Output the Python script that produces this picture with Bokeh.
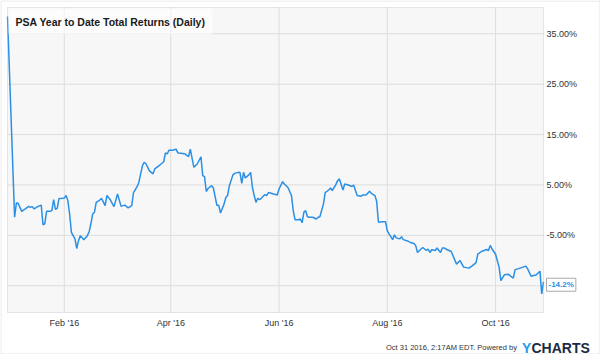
import pandas as pd
from bokeh.plotting import figure
from bokeh.models import BoxAnnotation, Label, Range1d
from bokeh.core.properties import value
from bokeh.embed import file_html
from bokeh.resources import INLINE

title_text = "PSA Year to Date Total Returns (Daily)"

dates = [
    "2015-12-31", "2016-01-04", "2016-01-05", "2016-01-06", "2016-01-08", "2016-01-10",
    "2016-01-12", "2016-01-13", "2016-01-14", "2016-01-15", "2016-01-17", "2016-01-19",
    "2016-01-20", "2016-01-21", "2016-01-22", "2016-01-24", "2016-01-25", "2016-01-26",
    "2016-01-27", "2016-01-28", "2016-01-29", "2016-01-31", "2016-02-01", "2016-02-02",
    "2016-02-03", "2016-02-04", "2016-02-05", "2016-02-07", "2016-02-08", "2016-02-09",
    "2016-02-10", "2016-02-12", "2016-02-14", "2016-02-15", "2016-02-16", "2016-02-17",
    "2016-02-18", "2016-02-19", "2016-02-21", "2016-02-22", "2016-02-24", "2016-02-25",
    "2016-02-27", "2016-02-29", "2016-03-02", "2016-03-04", "2016-03-06", "2016-03-08",
    "2016-03-10", "2016-03-11", "2016-03-13", "2016-03-14", "2016-03-16", "2016-03-17",
    "2016-03-18", "2016-03-20", "2016-03-22", "2016-03-23", "2016-03-26", "2016-03-28",
    "2016-03-29", "2016-03-30", "2016-03-31", "2016-04-02", "2016-04-04", "2016-04-05",
    "2016-04-07", "2016-04-09", "2016-04-11", "2016-04-12", "2016-04-14", "2016-04-16",
    "2016-04-18", "2016-04-19", "2016-04-20", "2016-04-21", "2016-04-22", "2016-04-24",
    "2016-04-25", "2016-04-27", "2016-04-28", "2016-04-29", "2016-05-01", "2016-05-02",
    "2016-05-03", "2016-05-04", "2016-05-06", "2016-05-07", "2016-05-09", "2016-05-10",
    "2016-05-11", "2016-05-12", "2016-05-13", "2016-05-15", "2016-05-16", "2016-05-17",
    "2016-05-18", "2016-05-19", "2016-05-20", "2016-05-21", "2016-05-22", "2016-05-24",
    "2016-05-25", "2016-05-26", "2016-05-28", "2016-05-31", "2016-06-01", "2016-06-03",
    "2016-06-04", "2016-06-06", "2016-06-08", "2016-06-09", "2016-06-10", "2016-06-12",
    "2016-06-13", "2016-06-14", "2016-06-15", "2016-06-16", "2016-06-17", "2016-06-18",
    "2016-06-20", "2016-06-22", "2016-06-23", "2016-06-24", "2016-06-26", "2016-06-27",
    "2016-06-29", "2016-06-30", "2016-07-01", "2016-07-03", "2016-07-04", "2016-07-05",
    "2016-07-07", "2016-07-08", "2016-07-10", "2016-07-12", "2016-07-13", "2016-07-15",
    "2016-07-17", "2016-07-18", "2016-07-20", "2016-07-22", "2016-07-23", "2016-07-25",
    "2016-07-26", "2016-07-27", "2016-07-29", "2016-07-31", "2016-08-01", "2016-08-02",
    "2016-08-04", "2016-08-05", "2016-08-06", "2016-08-08", "2016-08-09", "2016-08-10",
    "2016-08-12", "2016-08-14", "2016-08-16", "2016-08-17", "2016-08-18", "2016-08-20",
    "2016-08-21", "2016-08-23", "2016-08-24", "2016-08-25", "2016-08-26", "2016-08-28",
    "2016-08-29", "2016-08-31", "2016-09-01", "2016-09-02", "2016-09-03", "2016-09-06",
    "2016-09-09", "2016-09-11", "2016-09-13", "2016-09-16", "2016-09-18", "2016-09-20",
    "2016-09-21", "2016-09-23", "2016-09-26", "2016-09-27", "2016-09-28", "2016-09-29",
    "2016-10-01", "2016-10-03", "2016-10-04", "2016-10-06", "2016-10-08", "2016-10-11",
    "2016-10-12", "2016-10-14", "2016-10-18", "2016-10-19", "2016-10-21", "2016-10-24",
    "2016-10-26", "2016-10-27", "2016-10-28",
]

total_return_pct = [
    38.4, -1.4, 1.4, 1.35, -0.24, 0.24,
    0.75, 0.56, 0.7, 0.24, 0.7, 1.0,
    -2.9, -2.7, -0.24, -0.24, -0.1, 2.1,
    0.16, 0.36, 2.3, 2.35, 2.4, 2.9,
    1.9, -0.75, -4.4, -5.7, -7.6, -6.05,
    -5.06, -5.85, -5.06, -4.27, -2.7, -0.75,
    -0.4, 1.55, 2.0, 2.35, 0.9, 2.9,
    2.0, 0.7, 3.2, 0.75, 1.0, 0.44,
    0.9, 3.5, 4.66, 5.5, 8.8, 9.5,
    9.2, 7.8, 7.2, 8.2, 9.0, 9.6,
    11.35, 11.15, 11.9, 11.9, 12.1, 11.35,
    11.3, 11.15, 10.6, 12.1, 8.5, 9.2,
    10.6, 6.85, 6.65, 3.7, 4.3, 4.86,
    4.4, 0.9, 1.0, -0.56, 1.2, 2.5,
    2.9, 4.86, 7.0, 7.3, 7.5, 7.45,
    5.3, 7.5, 6.4, 7.0, 7.5, 4.5,
    2.9, 1.55, 2.35, 2.1, 2.35, 3.1,
    2.9, 3.5, 3.3, 3.0, 4.2, 5.65,
    5.2, 4.5, 2.9, -0.1, -1.9, -1.9,
    -1.75, -2.5, -0.4, -0.1, -1.3, -1.4,
    -1.4, -1.75, -1.4, -1.3, 1.2, 3.5,
    4.0, 4.4, 3.9, 5.06, 5.85, 6.2,
    4.0, 5.2, 5.0, 4.7, 5.0, 2.9,
    2.75, 3.0, 3.0, 3.73, 3.33, 2.9,
    1.75, -2.4, -2.3, -2.3, -4.1, -4.7,
    -5.85, -4.9, -5.5, -5.7, -5.26, -5.85,
    -6.05, -6.4, -6.6, -7.04, -8.4, -7.7,
    -7.4, -8.0, -7.7, -8.4, -7.85, -8.0,
    -7.5, -8.4, -7.5, -7.5, -7.7, -8.2,
    -10.7, -10.0, -11.3, -11.5, -11.0, -10.4,
    -8.7, -8.2, -7.8, -8.0, -7.0, -7.7,
    -8.75, -11.35, -14.0, -12.8, -12.7, -13.5,
    -11.8, -11.6, -11.1, -11.6, -13.1, -12.8,
    -12.1, -16.6, -14.2,
]

y_ticks = [35, 25, 15, 5, -5, -15]
y_tick_labels = ["35.00%", "25.00%", "15.00%", "5.00%", "-5.00%", ""]
x_tick_dates = ["2016-02-01", "2016-04-01", "2016-06-01", "2016-08-01", "2016-10-01"]
x_tick_labels = ["Feb '16", "Apr '16", "Jun '16", "Aug '16", "Oct '16"]
last_value_label = "-14.2%"
footer_text = "Oct 31 2016, 2:17AM EDT.  Powered by"
logo_y = "Y"
logo_rest = "CHARTS"

FONT = "Liberation Sans"
BLUE = "#2a8fe5"

# ---- layout (pixels) ----
W, H = 600, 354
PL, PR, PT, PB = 7, 543, 7, 312          # plot-area box on the canvas
Y_MIN, Y_MAX = -20.3, 40.2               # value range shown in the plot area


def ms(d):
    return pd.Timestamp(d).value / 1e6


x_ms = [ms(d) for d in dates]
x0, x1 = x_ms[0], x_ms[-1]
mpp_x = (x1 - x0) / (PR - PL)
mpp_y = (Y_MAX - Y_MIN) / (PB - PT)
x_range = Range1d(x0 - PL * mpp_x, x1 + (W - PR) * mpp_x)
y_range = Range1d(Y_MIN - (H - PB) * mpp_y, Y_MAX + PT * mpp_y)

p = figure(
    width=W, height=H, x_range=x_range, y_range=y_range,
    output_backend="svg", toolbar_location=None, min_border=0,
)
p.axis.visible = False
p.grid.visible = False
p.outline_line_color = None
p.background_fill_color = "white"
p.border_fill_color = "white"

# plot area
p.add_layout(BoxAnnotation(
    left=x0, right=x1, bottom=Y_MIN, top=Y_MAX,
    fill_color="#f7f7f7", fill_alpha=1, line_color=None, level="underlay",
))

# grid lines
x_tick_ms = [ms(d) for d in x_tick_dates]
p.segment(x0=x_tick_ms, y0=[Y_MIN] * len(x_tick_ms), x1=x_tick_ms, y1=[Y_MAX] * len(x_tick_ms),
          line_color="#dddddd", line_width=1)
p.segment(x0=[x0] * len(y_ticks), y0=y_ticks, x1=[x1] * len(y_ticks), y1=y_ticks,
          line_color="#dddddd", line_width=1)

# plot border
p.add_layout(BoxAnnotation(
    left=x0, right=x1, bottom=Y_MIN, top=Y_MAX,
    fill_alpha=0, line_color="#b0b0b0", line_width=1, level="overlay",
))

# data line
p.line(x_ms, total_return_pct, line_color=BLUE, line_width=1.5)

# tick labels
p.text(x=[x1] * len(y_ticks), y=y_ticks, text=y_tick_labels, x_offset=3,
       text_font=value(FONT), text_font_size="9px", text_color="#333333",
       text_align="left", text_baseline="middle")
p.text(x=x_tick_ms, y=[Y_MIN] * len(x_tick_ms), text=x_tick_labels, y_offset=5,
       text_font=value(FONT), text_font_size="9px", text_color="#333333",
       text_align="center", text_baseline="top")

# title
p.add_layout(Label(
    x=PL + 1, y=H - PT - 1, x_units="screen", y_units="screen", text=title_text,
    text_font=FONT, text_font_size="10.5px", text_font_style="bold",
    text_color="#1a1a1a", text_baseline="top", text_align="left",
    background_fill_color="white", background_fill_alpha=0.6, padding=7,
))

# last value flag
p.add_layout(Label(
    x=x1, y=total_return_pct[-1], x_offset=3, y_offset=-3, text=last_value_label,
    text_font=FONT, text_font_size="8px", text_font_style="bold",
    text_color=BLUE, text_baseline="middle", text_align="left",
    background_fill_color="white", border_line_color="#aaaaaa", padding=2,
))

# footer
p.add_layout(Label(
    x=518.5, y=H - 347, x_units="screen", y_units="screen", text=footer_text,
    text_font=FONT, text_font_size="7.5px", text_color="#333333",
    text_align="right", text_baseline="alphabetic",
))
p.add_layout(Label(
    x=521.5, y=H - 347, x_units="screen", y_units="screen", text=logo_y,
    text_font=FONT, text_font_size="14px", text_font_style="bold", text_color="#2b9ae8",
    text_align="left", text_baseline="alphabetic",
))
p.add_layout(Label(
    x=531, y=H - 347, x_units="screen", y_units="screen", text=logo_rest,
    text_font=FONT, text_font_size="14px", text_font_style="bold", text_color="#1b2a44",
    text_align="left", text_baseline="alphabetic",
))

# outer frame of the image
p.add_layout(BoxAnnotation(
    left=0.5, right=W - 0.5, bottom=0.5, top=H - 0.5,
    left_units="screen", right_units="screen", bottom_units="screen", top_units="screen",
    fill_alpha=0, line_color="#a8a8a8", line_width=1, level="overlay",
))

open("out.html", "w").write(file_html(p, INLINE))
